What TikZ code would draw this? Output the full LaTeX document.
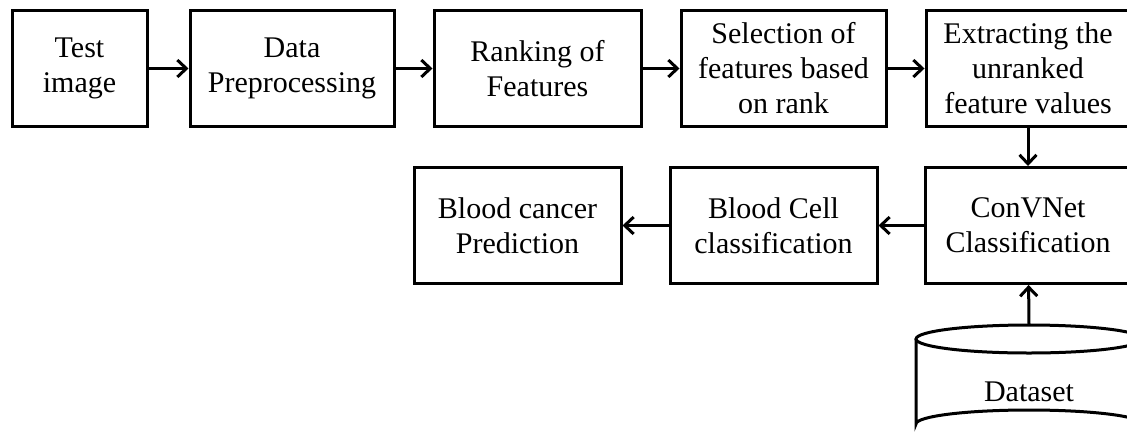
\documentclass[tikz,border=0pt]{standalone}
\usepackage{fontspec}
\setmainfont{Liberation Serif}
\usetikzlibrary{arrows.meta}
\begin{document}
\begin{tikzpicture}[x=1pt,y=-1pt,
  box/.style={draw, line width=3pt, minimum height=116pt, align=center,
    font=\fontsize{30}{35}\selectfont, inner sep=0pt},
  conn/.style={line width=3pt, -{Straight Barb[length=9pt,width=17pt,line width=3pt]}}]
\useasboundingbox (0,0) rectangle (1127,440);
\begin{scope}
\clip (0,0) rectangle (1127,440);
\node[box, minimum width=135pt] (test) at (79.5,68.5) {Test\\image};
\node[box, minimum width=204pt] (prep) at (292,68.5) {Data\\Preprocessing};
\node[box, minimum width=207pt] (rank) at (537.5,68.5) {Ranking of\\Features};
\node[box, minimum width=205pt] (sel) at (783.5,68.5) {Selection of\\features based\\on rank};
\node[box, minimum width=204pt] (ext) at (1028,68.5) {Extracting the\\unranked\\feature values};
\node[box, minimum width=206pt] (conv) at (1028,225.5) {ConVNet\\Classification};
\node[box, minimum width=207pt] (cell) at (773.5,225.5) {Blood Cell\\classification};
\node[box, minimum width=207pt] (pred) at (517.5,225.5) {Blood cancer\\Prediction};
% cylinder
\draw[line width=3pt, fill=white] (916,339) -- (916,424) arc[start angle=180, end angle=360, x radius=113, y radius=14] -- (1142,339);
\draw[line width=3pt] (1029,339) ellipse[x radius=113, y radius=14];
\node[font=\fontsize{30}{35}\selectfont] (ds) at (1029,392) {Dataset};
\coordinate (dstop) at (1029,325);
\end{scope}
\draw[conn] (test) -- (prep);
\draw[conn] (prep) -- (rank);
\draw[conn] (rank) -- (sel);
\draw[conn] (sel) -- (ext);
\draw[conn] (ext) -- (conv);
\draw[conn] (conv) -- (cell);
\draw[conn] (cell) -- (pred);
\draw[conn] (dstop) -- (conv);
\end{tikzpicture}
\end{document}
